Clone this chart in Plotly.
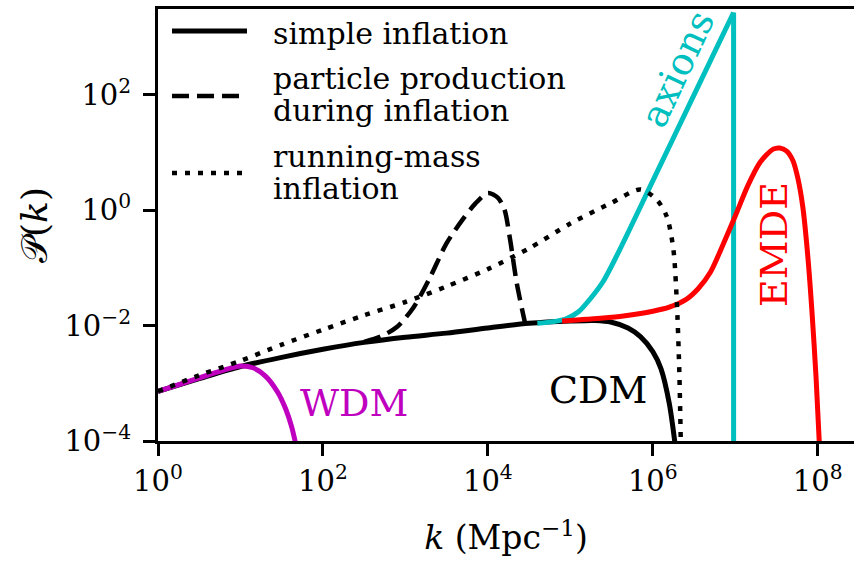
import numpy as np
import plotly.graph_objects as go

# log10(k / Mpc^-1) and log10 P(k) for each spectrum
simple_logk = [0, 0.5, 1.0, 1.5, 2.0, 2.5, 3.0, 3.5, 4.0, 4.5, 5.0, 5.3, 5.5, 5.7, 5.85, 6.0, 6.1, 6.2, 6.27]
simple_logP = [-3.14, -2.92, -2.71, -2.55, -2.41, -2.29, -2.20, -2.13, -2.04, -1.96, -1.92, -1.91, -1.94, -2.04, -2.19, -2.45, -2.75, -3.35, -4.05]

wdm_logk = [0, 0.3, 0.6, 0.85, 1.0, 1.15, 1.3, 1.45, 1.55, 1.62, 1.67]
wdm_logP = [-3.14, -3.00, -2.86, -2.75, -2.70, -2.73, -2.87, -3.15, -3.45, -3.75, -4.05]

pp_logk = [2.5, 2.7, 2.9, 3.1, 3.3, 3.5, 3.7, 3.85, 4.0, 4.12, 4.2, 4.27, 4.35, 4.45]
pp_logP = [-2.28, -2.19, -2.02, -1.68, -1.16, -0.57, -0.15, 0.12, 0.30, 0.22, 0.02, -0.51, -1.26, -1.95]

rm_logk = [0, 0.5, 1.0, 1.5, 2.0, 2.5, 3.0, 3.5, 4.0, 4.5, 5.0, 5.5, 5.85, 6.05, 6.17, 6.25, 6.29, 6.32, 6.34]
rm_logP = [-3.14, -2.86, -2.61, -2.33, -2.07, -1.82, -1.59, -1.32, -1.02, -0.66, -0.23, 0.13, 0.36, 0.18, -0.11, -0.68, -1.55, -2.71, -4.05]

axion_logk = [4.6, 4.8, 4.95, 5.1, 5.25, 5.4, 5.6, 6.0, 6.5, 6.98]
axion_logP = [-1.96, -1.93, -1.88, -1.76, -1.52, -1.23, -0.68, 0.51, 2.0, 3.43]
axion_cut_logk = [6.98, 6.98]
axion_cut_logP = [3.43, -6.0]

emde_logk = [4.9, 5.2, 5.6, 6.0, 6.2, 6.4, 6.55, 6.7, 6.85, 7.0, 7.15, 7.3, 7.46, 7.54, 7.62, 7.7, 7.76, 7.82, 7.88, 7.93, 7.98, 8.02]
emde_logP = [-1.92, -1.89, -1.84, -1.75, -1.68, -1.55, -1.36, -1.07, -0.60, -0.10, 0.42, 0.83, 1.06, 1.08, 1.03, 0.86, 0.55, 0.05, -0.80, -1.75, -2.90, -4.05]

tick_k = [0, 2, 4, 6, 8]
tick_P = [-4, -2, 0, 2]

BLACK = "black"
MAGENTA = "#bf00bf"
CYAN = "#00bfbf"
RED = "#ff0000"
SERIF = "DejaVu Serif"


def pw(v):
    return np.power(10.0, np.asarray(v, dtype=float))


def sup(e):
    s = str(e).replace("-", "\u2212")
    return f"10<sup>{s}</sup>"


fig = go.Figure()


def add(lk, lp, color, width, dash="solid", shape="spline"):
    fig.add_trace(go.Scatter(
        x=pw(lk), y=pw(lp), mode="lines",
        line=dict(color=color, width=width, dash=dash, shape=shape, smoothing=0.8),
        showlegend=False, hoverinfo="skip"))


add(simple_logk, simple_logP, BLACK, 5)
add(wdm_logk, wdm_logP, MAGENTA, 5)
add(axion_logk, axion_logP, CYAN, 5)
add(axion_cut_logk, axion_cut_logP, CYAN, 5, shape="linear")
add(emde_logk, emde_logP, RED, 5)
add(pp_logk, pp_logP, BLACK, 4.5, dash="17px,8px")
add(rm_logk, rm_logP, BLACK, 4.5, dash="5px,8px")

# curve labels
labels = [
    ("WDM", 2.38, -3.34, MAGENTA, 0),
    ("CDM", 5.34, -3.11, BLACK, 0),
    ("EMDE", 7.47, -0.60, RED, -90),
    ("axions", 6.30, 2.45, CYAN, -65),
]
for txt, lk, lp, col, ang in labels:
    fig.add_annotation(x=lk, y=lp, xref="x", yref="y", text=txt, showarrow=False,
                       textangle=ang, font=dict(family=SERIF, size=38, color=col),
                       xanchor="center", yanchor="middle")

# legend drawn in the upper-left corner of the axes
legend_rows = [
    ("solid", 31, ["simple inflation"], [33]),
    ("17px,8px", 96, ["particle production", "during inflation"], [78, 110]),
    ("5px,8px", 173, ["running-mass", "inflation"], [156, 188]),
]
W, H = 854, 567
L, R, T, B = 158, 0, 9, 126
pw_ = W - L - R
ph_ = H - T - B


def px(xpix):
    return (xpix - L) / pw_


def py(ypix):
    return 1 - (ypix - T) / ph_


for dash, ys, texts, tys in legend_rows:
    fig.add_shape(type="line", xref="paper", yref="paper",
                  x0=px(172), x1=px(247), y0=py(ys), y1=py(ys),
                  line=dict(color=BLACK, width=5 if dash == "solid" else 4.5, dash=dash))
    for t, ty in zip(texts, tys):
        fig.add_annotation(x=px(271), y=py(ty), xref="paper", yref="paper", text=t,
                           showarrow=False, xanchor="left", yanchor="middle",
                           font=dict(family=SERIF, size=30, color=BLACK))

fig.update_layout(
    width=W, height=H,
    margin=dict(l=L, r=R, t=T, b=B),
    plot_bgcolor="white", paper_bgcolor="white",
    showlegend=False,
)
fig.update_xaxes(
    type="log", range=[0, 8.44],
    showline=True, linecolor=BLACK, linewidth=3, mirror=True,
    ticks="outside", ticklen=12, tickwidth=2.5, tickcolor=BLACK,
    tickvals=pw(tick_k), ticktext=[sup(e) for e in tick_k],
    tickfont=dict(family=SERIF, size=29, color=BLACK),
    showgrid=False, zeroline=False,
    title=dict(text="<i>k</i> (Mpc<sup>\u22121</sup>)", font=dict(family=SERIF, size=33, color=BLACK), standoff=30),
)
fig.update_yaxes(
    type="log", range=[-4, 3.49],
    showline=True, linecolor=BLACK, linewidth=3, mirror=False,
    ticks="outside", ticklen=12, tickwidth=2.5, tickcolor=BLACK,
    tickvals=pw(tick_P), ticktext=[sup(e) for e in tick_P],
    tickfont=dict(family=SERIF, size=29, color=BLACK),
    ticklabelstandoff=6,
    showgrid=False, zeroline=False,
    title=dict(text="\U0001D4AB(<i>k</i>)", font=dict(family=SERIF, size=36, color=BLACK), standoff=6),
)

fig.write_html("out.html")
